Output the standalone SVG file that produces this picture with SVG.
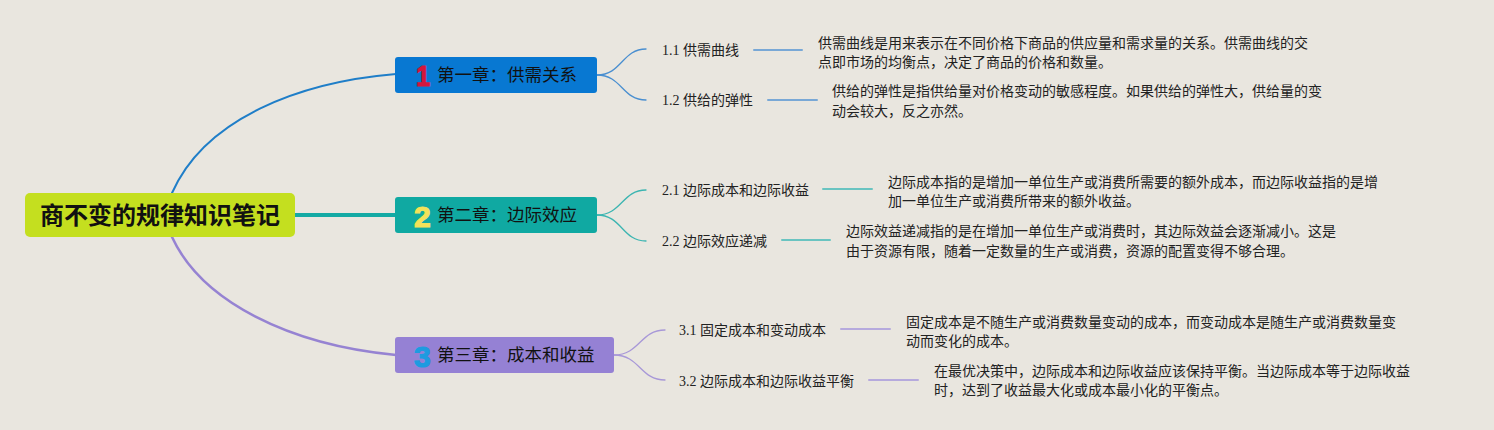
<svg xmlns="http://www.w3.org/2000/svg" width="1494" height="430" viewBox="0 0 1494 430">
<style>
.bg{fill:#e9e6df}
.root{fill:#c4df1f}
.rt{font-family:"Noto Sans CJK SC","Noto Sans",sans-serif;font-weight:bold;font-size:24px;fill:#111}
.ht{font-family:"Noto Sans CJK SC","Noto Sans",sans-serif;font-size:17.5px;fill:#111}
.num{font-family:"Liberation Sans","DejaVu Sans",sans-serif;font-weight:bold;font-size:30px;stroke-width:1.2}
.lb{font-family:"Liberation Serif","Noto Sans CJK SC",serif;font-size:14px;fill:#222}
.ds{font-family:"Noto Sans CJK SC","Noto Sans",sans-serif;font-size:14px;fill:#222}
.c{fill:none;stroke-linecap:round}
</style>
<rect class="bg" x="0" y="0" width="1494" height="430"/>
<g id="connectors">
<path class="c" d="M172,193 C205,118 300,82 396,74" stroke="#1f7ec8" stroke-width="2"/>
<path class="c" d="M294,215 L396,215" stroke="#14aaa4" stroke-width="4"/>
<path class="c" d="M172,237 C202,302 290,345 396,355" stroke="#9683d2" stroke-width="2.5"/>
<path class="c" d="M597,75 C622,75 622,49 646,49" stroke="#4a8fd0" stroke-width="1.3"/>
<path class="c" d="M597,75 C622,75 622,100 646,100" stroke="#4a8fd0" stroke-width="1.3"/>
<path class="c" d="M597,215 C622,215 622,190 646,190" stroke="#3cb5b1" stroke-width="1.3"/>
<path class="c" d="M597,215 C622,215 622,241 646,241" stroke="#3cb5b1" stroke-width="1.3"/>
<path class="c" d="M614,355 C640,355 640,330 665,330" stroke="#a898d8" stroke-width="1.3"/>
<path class="c" d="M614,355 C640,355 640,380 665,380" stroke="#a898d8" stroke-width="1.3"/>
<path class="c" d="M754,50 L802,50" stroke="#79a8d6" stroke-width="2"/>
<path class="c" d="M768,100 L817,100" stroke="#79a8d6" stroke-width="2"/>
<path class="c" d="M823,189 L872,189" stroke="#6ac4c1" stroke-width="2"/>
<path class="c" d="M782,240 L830,240" stroke="#6ac4c1" stroke-width="2"/>
<path class="c" d="M841,329 L890,329" stroke="#b6aadd" stroke-width="2"/>
<path class="c" d="M869,380 L918,380" stroke="#b6aadd" stroke-width="2"/>
</g>
<g id="root">
<rect class="root" x="25" y="193" width="270" height="44" rx="5"/>
<text class="rt" x="160" y="224" text-anchor="middle">商不变的规律知识笔记</text>
</g>
<g id="ch1">
<rect x="395" y="57" width="202" height="36" rx="3" fill="#0878d2"/>
<text class="num" transform="translate(416,86) scale(0.85,1)" fill="#d4163c" stroke="#d4163c">1</text>
<text class="ht" x="437" y="81">第一章：供需关系</text>
</g>
<g id="ch2">
<rect x="395" y="197" width="202" height="36" rx="3" fill="#10a9a2"/>
<text class="num" x="414" y="227" fill="#f2e25a" stroke="#f2e25a">2</text>
<text class="ht" x="437" y="221">第二章：边际效应</text>
</g>
<g id="ch3">
<rect x="395" y="337" width="219" height="36" rx="3" fill="#9581d4"/>
<text class="num" x="414" y="367" fill="#1e9be0" stroke="#1e9be0">3</text>
<text class="ht" x="437" y="361">第三章：成本和收益</text>
</g>
<g id="s11">
<text class="lb" x="662" y="55">1.1 供需曲线</text>
<text class="ds" x="818" y="48">供需曲线是用来表示在不同价格下商品的供应量和需求量的关系。供需曲线的交</text>
<text class="ds" x="818" y="67">点即市场的均衡点，决定了商品的价格和数量。</text>
</g>
<g id="s12">
<text class="lb" x="662" y="105">1.2 供给的弹性</text>
<text class="ds" x="832" y="96">供给的弹性是指供给量对价格变动的敏感程度。如果供给的弹性大，供给量的变</text>
<text class="ds" x="832" y="116">动会较大，反之亦然。</text>
</g>
<g id="s21">
<text class="lb" x="662" y="195">2.1 边际成本和边际收益</text>
<text class="ds" x="888" y="187">边际成本指的是增加一单位生产或消费所需要的额外成本，而边际收益指的是增</text>
<text class="ds" x="888" y="206">加一单位生产或消费所带来的额外收益。</text>
</g>
<g id="s22">
<text class="lb" x="662" y="246">2.2 边际效应递减</text>
<text class="ds" x="846" y="236">边际效益递减指的是在增加一单位生产或消费时，其边际效益会逐渐减小。这是</text>
<text class="ds" x="846" y="256">由于资源有限，随着一定数量的生产或消费，资源的配置变得不够合理。</text>
</g>
<g id="s31">
<text class="lb" x="679" y="335">3.1 固定成本和变动成本</text>
<text class="ds" x="906" y="327">固定成本是不随生产或消费数量变动的成本，而变动成本是随生产或消费数量变</text>
<text class="ds" x="906" y="346">动而变化的成本。</text>
</g>
<g id="s32">
<text class="lb" x="679" y="386">3.2 边际成本和边际收益平衡</text>
<text class="ds" x="934" y="376">在最优决策中，边际成本和边际收益应该保持平衡。当边际成本等于边际收益</text>
<text class="ds" x="934" y="395">时，达到了收益最大化或成本最小化的平衡点。</text>
</g>
</svg>
